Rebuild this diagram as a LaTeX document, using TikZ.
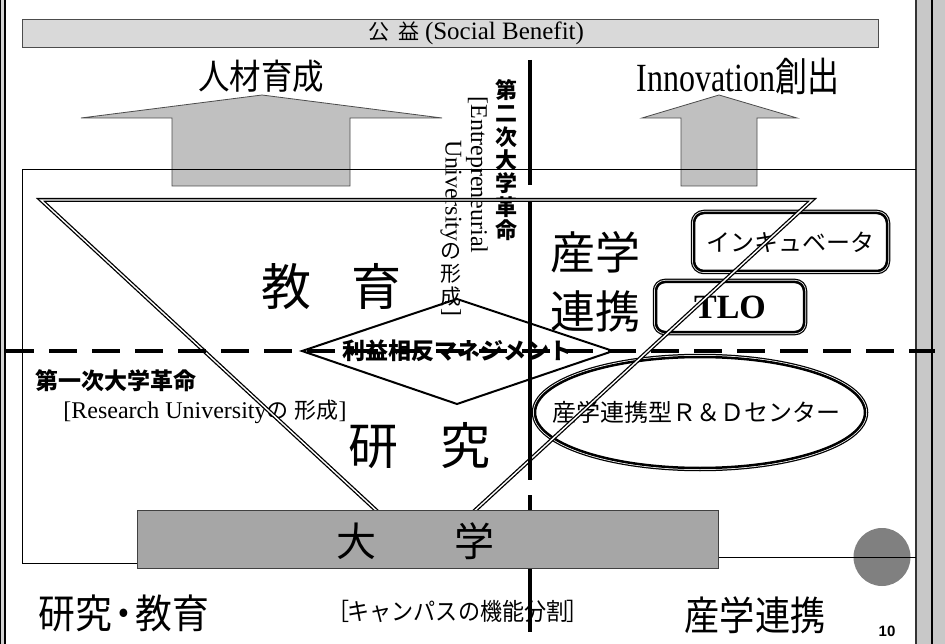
\documentclass[tikz,border=0pt]{standalone}
\usepackage{fontspec}
\usetikzlibrary{shapes.geometric}
\setmainfont{Liberation Serif}
\newfontfamily\jp{Noto Sans CJK JP}
\newfontfamily\numfont{Liberation Sans}
\newcommand\fsz[1]{\fontsize{#1}{#1}\selectfont}
\definecolor{barlight}{RGB}{217,217,217}
\definecolor{arrowgray}{RGB}{192,192,192}
\definecolor{bardark}{RGB}{166,166,166}
\definecolor{circgray}{RGB}{128,128,128}
\definecolor{stripgray}{RGB}{200,200,200}
\begin{document}
\begin{tikzpicture}[x=1pt,y=-1pt,
  txt/.style={inner sep=0pt, outer sep=0pt},
  thinline/.style={draw=black, line width=1pt},
  bigarrow/.style={fill=arrowgray, draw=black!70, line width=0.8pt},
  tri/.style={draw=black, line width=1.3pt, double=white, double distance=1.4pt},
  dbox/.style={draw=white, line width=4pt, fill=white, inner sep=0pt,
     preaction={draw=black, line width=6.5pt},
     postaction={draw=black, line width=2.5pt}},
  vline/.style={draw=black, line width=4pt}
]
\useasboundingbox (0,0) rectangle (945,644);
\fill[white] (0,0) rectangle (945,644);
% borders
\fill[stripgray] (917,0) rectangle (945,644);
\draw[line width=2.5pt, black!80] (916,0) -- (916,644);
\draw[line width=1.5pt] (932,0) -- (932,644);
\fill[gray!35] (0,0) rectangle (5,644);
\draw[line width=1pt] (0.5,0) -- (0.5,644);
\draw[line width=2pt] (5,0) -- (5,644);

% top bar
\node[draw=black!70, line width=0.8pt, fill=barlight, minimum width=856pt, minimum height=28pt, inner sep=0pt, anchor=north west] (topbar) at (22,19) {};
\node[txt] (sbtext) at (476,33) {{\jp\fsz{21}公\hspace{9pt}益}\hspace{6pt}\fsz{25}(Social Benefit)};

% arrows
\draw[bigarrow] (172,186) -- (172,118) -- (81,118) -- (262,95) -- (442,118) -- (350,118) -- (350,186) -- cycle;
\draw[bigarrow] (681,186) -- (681,118) -- (642,118) -- (719,95) -- (797,118) -- (757,118) -- (757,186) -- cycle;

% frame top line
\coordinate (ftl) at (22,170);
\coordinate (ftr) at (916,170);
\draw[thinline] (ftl) -- (ftr);

% top texts
\node[txt] (jinzai) at (261,76) {\jp\fsz{35}\scalebox{0.9}[1]{人材育成}};
\node[txt] (innov) at (738,76) {\fsz{40}\scalebox{0.8}[1]{Innovation{\jp 創出}}};

% vertical columns
\node[txt, align=center, font={\jp\bfseries\fontsize{22}{23.4}\selectfont}] (col1) at (506,160) {第\\二\\次\\大\\学\\革\\命};
\node[txt, rotate=-90, font=\fsz{24}] (col2) at (477,175) {[Entrepreneurial};
\node[txt, rotate=-90, font=\fsz{24}] (col3a) at (451,191) {University};
\node[txt, align=center, font={\jp\fontsize{21}{23}\selectfont}] (col3b) at (451,275) {の\\形\\成};
\node[txt, rotate=-90, font=\fsz{24}] (col3c) at (451,312) {]};

% big texts
\node[txt] (kyoiku) at (331,287) {\jp\fsz{50}教\hspace{40pt}育};
\node[txt] (kenkyu) at (419,446) {\jp\fsz{50}研\hspace{42pt}究};
\node[txt, align=center, font={\jp\fontsize{45}{59}\selectfont}] (sangaku) at (595,282) {産学\\連携};

% left texts
\node[txt] (first) at (116,381) {\jp\bfseries\fsz{23}第一次大学革命};
\node[txt] (research) at (205,412) {\fsz{24}[Research University{\jp\fsz{22}の\hspace{6pt}形成}]};

% diamond
\coordinate (dmw) at (302,351);
\coordinate (dmn) at (457,299);
\coordinate (dme) at (613,351);
\coordinate (dms) at (457,404);
\draw[line width=2pt] (dmw) -- (dmn) -- (dme) -- (dms) -- cycle;
\node[txt] (rieki) at (457,351) {\jp\bfseries\fsz{23}利益相反マネジメント};

% boxes
\node[dbox, rounded corners=10pt, minimum width=193pt, minimum height=58pt, font={\jp\fsz{24}}] (incub) at (790.5,242) {インキュベータ};
\node[dbox, rounded corners=9pt, minimum width=148pt, minimum height=50pt, font={\bfseries\fsz{34}}] (tlo) at (730,307) {TLO};
\node[dbox, ellipse, minimum width=330pt, minimum height=111pt] (rd) at (700,412.5) {};
\node[txt, font={\jp\fsz{24}}] (rdtext) at (696,412) {産学連携型Ｒ＆Ｄセンター};

% triangle
\coordinate (tl) at (41,200);
\coordinate (tr) at (812,200);
\coordinate (ta) at (425.5,556);
\draw[tri] (tl) -- (tr) -- (ta) -- cycle;

% dashed line
\coordinate (dl) at (6,351);
\coordinate (dr) at (935,351);
\draw[line width=4pt, dash pattern=on 28pt off 15pt] (dl) -- (dr);

% vertical line
\draw[vline] (529.5,60) -- (529.5,185);
\draw[vline] (529.5,202) -- (529.5,480);
\draw[vline] (529.5,495) -- (529.5,510);
\draw[vline] (529.5,568) -- (529.5,632);

% university bar
\node[draw=black!75, line width=0.8pt, fill=bardark, minimum width=581pt, minimum height=58pt, inner sep=0pt, anchor=north west] (bar) at (137,510) {};
\node[txt] (daigaku) at (415,541) {\jp\fsz{40}大\hspace{78pt}学};

% frame side lines
\coordinate (fbl) at (22,563);
\draw[thinline] (ftl) -- (fbl) -- (fbl -| bar.west);

% circle and right line
\node[fill=circgray, ellipse, minimum width=57pt, minimum height=58pt, inner sep=0pt] (dot) at (882,557) {};
\coordinate (fbr) at (916,557);
\draw[thinline] (fbr -| bar.east) -- (fbr);

% bottom texts
\node[txt] (kk) at (124,613) {\jp\fsz{40}\scalebox{0.92}[1]{研究\kern-7pt・\kern-7pt教育}};
\node[txt] (campus) at (458,611) {\jp\fsz{24}\scalebox{0.92}[1]{［\kern-2ptキャンパスの機能分割\kern-2pt］}};
\node[txt] (sr) at (755,615) {\jp\fsz{40}\scalebox{0.88}[1]{産学連携}};
\node[txt] (pg) at (887,631) {\numfont\bfseries\fsz{15}10};
\end{tikzpicture}
\end{document}
